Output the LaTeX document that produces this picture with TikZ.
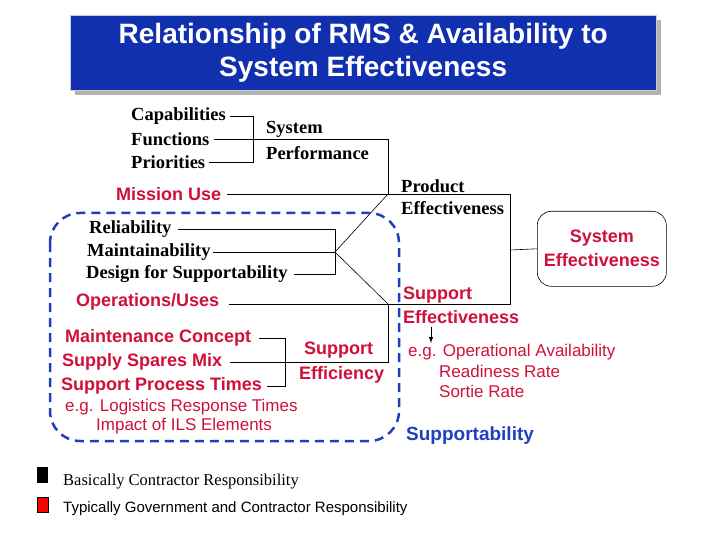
\documentclass[tikz,border=0pt]{standalone}
\usepackage{fontspec}
\usetikzlibrary{calc}
\setmainfont{Liberation Serif}
\setsansfont{Liberation Sans}
\definecolor{rd}{HTML}{D0103A}
\definecolor{bl}{HTML}{1F3FBF}
\definecolor{tb}{HTML}{1030B0}
\begin{document}
\begin{tikzpicture}[x=1pt,y=-1pt,
 bk/.style={font=\fontsize{18.5}{20}\selectfont\bfseries,inner sep=0pt,text=black},
 rs/.style={font=\sffamily\fontsize{18}{20}\selectfont\bfseries,inner sep=0pt,text=rd},
 rsm/.style={font=\sffamily\fontsize{17}{19}\selectfont,inner sep=0pt,text=rd},
 ln/.style={draw=black,line width=0.6pt}]
\useasboundingbox (0,0) rectangle (720,540);
\fill[gray!60] (75,20) rectangle (661,95);
\node[fill=tb,draw=gray!40,minimum width=586pt,minimum height=75pt,anchor=north west,inner sep=0pt,
 text=white,font=\sffamily\fontsize{28}{33}\selectfont\bfseries,align=center] (title) at (70,15)
 {Relationship of RMS \& Availability to\\System Effectiveness};
% top group
\node[bk,anchor=west] (cap) at (131,116) {Capabilities};
\node[bk,anchor=west] (fun) at (131,139) {Functions};
\node[bk,anchor=west] (pri) at (131,162) {Priorities};
\node[bk,anchor=west] (sys) at (266,129) {System};
\node[bk,anchor=west] (perf) at (266,153) {Performance};
\coordinate (b1t) at (253,116); \coordinate (b1b) at (253,162);
\draw[ln] ($(cap.east)+(4,0)$) -- (b1t) -- (b1b) -- ($(pri.east)+(4,0)$);
\draw[ln] ($(fun.east)+(4,0)$) -- (388,139) -- (388,194);
\node[rs,anchor=west] (mis) at (116,194) {Mission Use};
\node[bk,anchor=west] (pe1) at (401,186) {Product};
\node[bk,anchor=west] (pe2) at (401,208) {Effectiveness};
\coordinate (pt) at (388,194); \coordinate (st) at (388,304);
\draw[ln] ($(mis.east)+(6,0)$) -- (510,194) -- (510,304) -- (229,304);
\node[rs,anchor=west] (ops) at (76,302) {Operations/Uses};
% RMS group
\node[bk,anchor=west] (rel) at (89,229) {Reliability};
\node[bk,anchor=west] (mai) at (87,252) {Maintainability};
\node[bk,anchor=west] (dfs) at (86,274) {Design for Supportability};
\coordinate (b2) at (335,252);
\draw[ln] ($(rel.east)+(6,0)$) -- (335,229) -- (335,274) -- ($(dfs.east)+(6,0)$);
\draw[ln] ($(mai.east)+(2,0)$) -- (b2);
\draw[ln] (pt) -- (b2) -- (st);
% support group
\node[rs,anchor=west] (mc) at (65,338) {Maintenance Concept};
\node[rs,anchor=west] (ssm) at (62,362) {Supply Spares Mix};
\node[rs,anchor=west] (spt) at (61,386) {Support Process Times};
\node[rs,anchor=west] (se1) at (304,350) {Support};
\node[rs,anchor=west] (se2) at (299,375) {Efficiency};
\draw[ln] ($(mc.east)+(8,0)$) -- (285,338) -- (285,386) -- ($(spt.east)+(5,0)$);
\draw[ln] ($(ssm.east)+(8,0)$) -- (388,362) -- (st);
\node[rsm,anchor=west] (eg1) at (65,407) {e.g. Logistics Response Times};
\node[rsm,anchor=west] (eg2) at (96,426) {Impact of ILS Elements};
\draw[bl,line width=2.5pt,dash pattern=on 9pt off 6pt,rounded corners=30pt] (50,213) rectangle (399,441);
% right
\node[rs,anchor=west] (su1) at (403,295) {Support};
\node[rs,anchor=west] (su2) at (403,317) {Effectiveness};
\node[draw=black,line width=0.6pt,rounded corners=14pt,minimum width=129pt,minimum height=75pt,inner sep=0pt,
 anchor=north west,align=center,text=rd,font=\sffamily\fontsize{18}{24}\selectfont\bfseries] (sysE) at (537,211) {System\\Effectiveness};
\draw[ln] (510,250) -- (sysE.west);
\coordinate (ar1) at (431,327); \coordinate (ar2) at (431,343);
\draw[-latex,line width=1pt] (ar1) -- (ar2);
\node[rsm,anchor=west] (ao) at (408,352) {e.g. Operational Availability};
\node[rsm,anchor=west] (rr) at (439,371) {Readiness Rate};
\node[rsm,anchor=west] (sr) at (439,391) {Sortie Rate};
\node[font=\sffamily\fontsize{19}{21}\selectfont\bfseries,text=bl,inner sep=0pt,anchor=west] (sup) at (406,436) {Supportability};
% legend
\fill[black] (37,467) rectangle (48,483);
\node[font=\fontsize{16.5}{18}\selectfont,inner sep=0pt,anchor=west] (l1) at (63,482) {Basically Contractor Responsibility};
\draw[fill=red,draw=black,line width=1pt] (37,497) rectangle (48,512);
\node[font=\sffamily\fontsize{15}{17}\selectfont,inner sep=0pt,anchor=west] (l2) at (63,509) {Typically Government and Contractor Responsibility};
\end{tikzpicture}
\end{document}
